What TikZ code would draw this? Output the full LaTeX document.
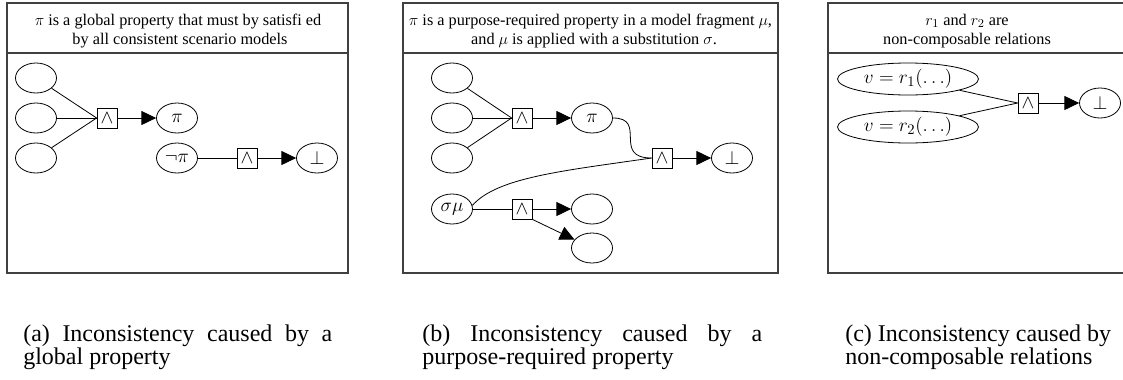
\documentclass[tikz,border=0pt]{standalone}
\usepackage{fontspec}
\setmainfont{Liberation Serif}
\usetikzlibrary{arrows.meta,shapes.geometric}
\newcommand\mynodefont{\fontsize{14}{16}\selectfont}
\newcommand\myheadfont{\fontsize{12.2}{14}\selectfont}
\newcommand\mycapfont{\fontsize{18}{20}\selectfont}
\begin{document}
\begin{tikzpicture}[x=0.75pt,y=-0.75pt,
  ell/.style={ellipse, draw, line width=0.6pt, minimum width=30.75pt, minimum height=22.5pt, inner sep=0pt, font=\mynodefont},
  wideell/.style={ell, minimum width=105.75pt, minimum height=24pt, font=\fontsize{15}{17}\selectfont},
  andbox/.style={rectangle, draw, line width=0.6pt, minimum size=15pt, inner sep=0pt, font=\mynodefont},
  conn/.style={line width=0.6pt},
  arr/.style={conn, -{Triangle[length=11pt,width=10.5pt]}},
  panel/.style={draw=black!75, line width=0.9pt},
  headtext/.style={anchor=base, font=\myheadfont, inner sep=0pt},
  captext/.style={anchor=base west, font=\mycapfont, inner sep=0pt}]
\useasboundingbox (0,0) rectangle (1123,379);
\clip (0,0) rectangle (1123,379);

% ---------- panel (a)
\draw[panel] (7,3) rectangle (348,273);
\draw[panel] (7,53) -- (348,53);
\node[headtext] (ha1) at (178,25) {$\pi$ is a global property that must by satisfi ed};
\node[headtext] (ha2) at (180,44) {by all consistent scenario models};
\node[ell] (a1) at (36,78) {};
\node[ell] (a2) at (36,118) {};
\node[ell] (a3) at (36,158) {};
\node[andbox] (aand) at (107,118) {$\wedge$};
\node[ell] (api) at (177,118) {$\pi$};
\node[ell] (anpi) at (177,158) {$\neg\pi$};
\node[andbox] (aand2) at (247,158) {$\wedge$};
\node[ell] (abot) at (317,158) {$\bot$};
\draw[conn] (a1) -- (aand.west);
\draw[conn] (a2) -- (aand.west);
\draw[conn] (a3) -- (aand.west);
\draw[arr] (aand) -- (api);
\draw[conn] (anpi) -- (aand2);
\draw[arr] (aand2) -- (abot);

% ---------- panel (b)
\draw[panel] (403,3) rectangle (778,273);
\draw[panel] (403,53) -- (778,53);
\node[headtext] (hb1) at (590.5,25) {$\pi$ is a purpose-required property in a model fragment $\mu$,};
\node[headtext] (hb2) at (594,44) {and $\mu$ is applied with a substitution $\sigma$.};
\node[ell] (b1) at (452,78) {};
\node[ell] (b2) at (452,118) {};
\node[ell] (b3) at (452,158) {};
\node[andbox] (band) at (522,118) {$\wedge$};
\node[ell] (bpi) at (592,118) {$\pi$};
\node[andbox] (band2) at (662,158) {$\wedge$};
\node[ell] (bbot) at (732,158) {$\bot$};
\node[ell] (bsm) at (452,209) {$\sigma\mu$};
\node[andbox] (band3) at (522,209) {$\wedge$};
\node[ell] (bo1) at (592,209) {};
\node[ell] (bo2) at (592,248) {};
\draw[conn] (b1) -- (band.west);
\draw[conn] (b2) -- (band.west);
\draw[conn] (b3) -- (band.west);
\draw[arr] (band) -- (bpi);
\draw[conn] (bpi.east) .. controls +(35,0) and +(-40,0) .. (band2.west);
\draw[conn] (bsm.10) .. controls +(25,-28) and +(-90,13) .. (band2.west);
\draw[arr] (band2) -- (bbot);
\draw[conn] (bsm) -- (band3);
\draw[arr] (band3) -- (bo1);
\draw[arr] (band3.south east) -- (bo2);

% ---------- panel (c)
\draw[panel] (828,3) rectangle (1135,273);
\draw[panel] (828,53) -- (1135,53);
\node[headtext] (hc1) at (967,25) {$r_1$ and $r_2$ are};
\node[headtext] (hc2) at (967,44) {non-composable relations};
\node[wideell] (c1) at (908,79) {$v = r_1(\ldots)$};
\node[wideell] (c2) at (908,127) {$v = r_2(\ldots)$};
\node[andbox] (cand) at (1028,103) {$\wedge$};
\node[ell] (cbot) at (1100,103) {$\bot$};
\draw[conn] (c1) -- (cand.west);
\draw[conn] (c2) -- (cand.west);
\draw[arr] (cand) -- (cbot);

% ---------- captions
\node[captext] (capa1) at (23,341) {\hbox to 231.75pt{(a) Inconsistency caused by a}};
\node[captext] (capa2) at (23,364) {global property};
\node[captext] (capb1) at (422,341) {\hbox to 255pt{(b) Inconsistency caused by a}};
\node[captext] (capb2) at (422,364) {purpose-required property};
\node[captext] (capc1) at (845,341) {(c) Inconsistency caused by};
\node[captext] (capc2) at (845,364) {non-composable relations};
\end{tikzpicture}
\end{document}
